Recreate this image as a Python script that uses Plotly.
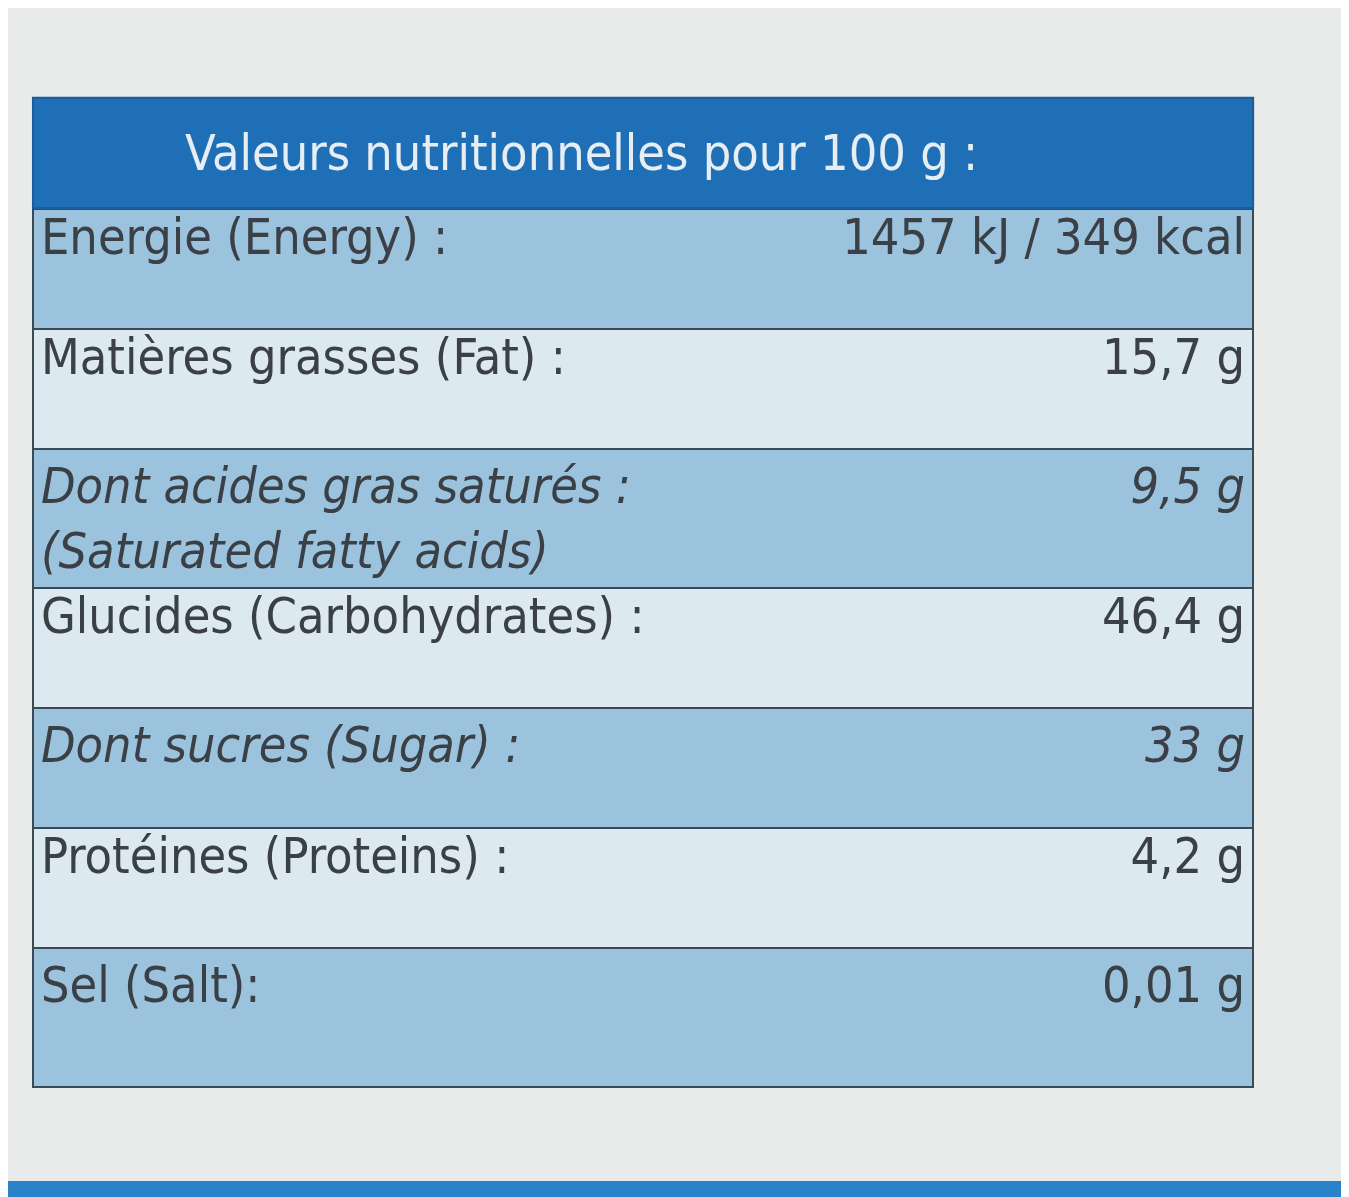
import plotly.graph_objects as go

# rows of the label
title = "Valeurs nutritionnelles pour 100 g :"
labels = ["Energie (Energy) :",
          "Matières grasses (Fat) :",
          "<i>Dont acides gras saturés :<br>(Saturated fatty acids)</i>",
          "Glucides (Carbohydrates) :",
          "<i>Dont sucres (Sugar) :</i>",
          "Protéines (Proteins) :",
          "Sel (Salt):<br> "]
values = ["1457 kJ / 349 kcal", "15,7 g", "<i>9,5 g</i><br> ", "46,4 g",
          "<i>33 g</i>", "4,2 g", "0,01 g<br> "]
row_colors = ["#9cc3de", "#dde9f0", "#9cc3de", "#dde9f0", "#9cc3de", "#dde9f0", "#9cc3de"]

font = "DejaVu Sans Condensed, Liberation Sans Narrow, sans-serif"
dom = dict(x=[0.0185, 0.923], y=[0.064, 0.833])
hdr = dict(values=[""], height=1, fill_color="rgba(0,0,0,0)", line=dict(width=0))

fig = go.Figure()
# coloured rows with invisible borders
fig.add_trace(go.Table(
    domain=dom, columnwidth=[0.62, 0.38],
    header=dict(values=["", ""], height=1, fill_color="rgba(0,0,0,0)", line=dict(width=0)),
    cells=dict(values=[labels, values],
               fill_color=[row_colors, row_colors],
               align=["left", "right"], height=120,
               font=dict(family=font, size=50, color="#3a4046"),
               line=dict(color=[row_colors, row_colors], width=2)),
))
# overlay single-column table to draw only horizontal rules
fig.add_trace(go.Table(
    domain=dom, header=hdr,
    cells=dict(values=[labels], fill_color="rgba(0,0,0,0)", height=120,
               font=dict(family=font, size=50, color="rgba(0,0,0,0)"),
               line=dict(color="#3b4a55", width=2)),
))

fig.add_shape(type="rect", xref="paper", yref="paper", x0=0.0185, x1=0.923,
              y0=0.833, y1=0.925, fillcolor="#1f6fb6",
              line=dict(color="#1a5d9a", width=2))
fig.add_annotation(text=title, xref="paper", yref="paper", x=0.13, y=0.879,
                   xanchor="left", yanchor="middle", showarrow=False,
                   font=dict(family=font, size=50, color="#e6eef4"))
fig.add_shape(type="rect", xref="paper", yref="paper", x0=0, x1=1,
              y0=0, y1=0.02, fillcolor="#2a82c9", line=dict(width=0))

fig.update_layout(width=1349, height=1197, margin=dict(l=0, r=0, t=0, b=0),
                  paper_bgcolor="#e8ebe9", plot_bgcolor="#e8ebe9")
fig.write_html("out.html")
